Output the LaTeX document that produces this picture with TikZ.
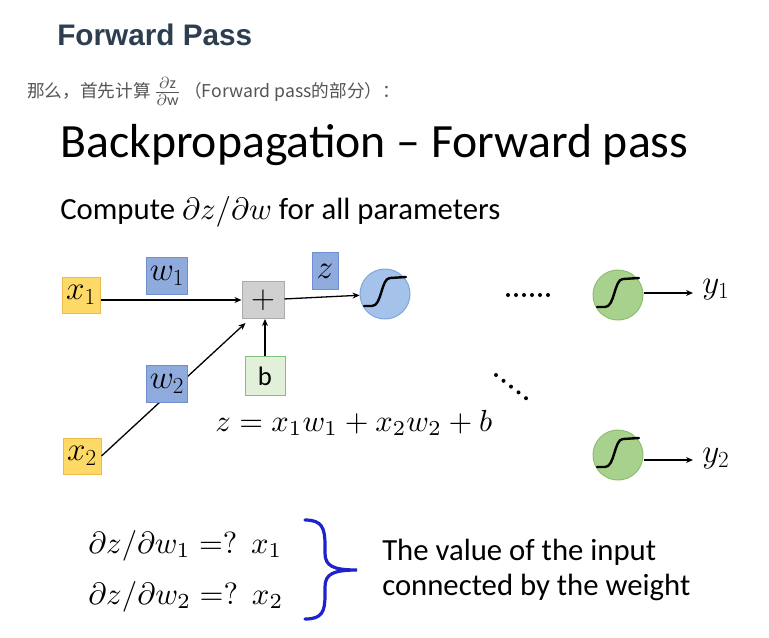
\documentclass[tikz,border=0pt]{standalone}
\usepackage{fontspec}
\setmainfont{Carlito}
\newfontfamily\cjk{Noto Sans CJK SC}
\newfontfamily\hdr{Liberation Sans}
\usetikzlibrary{arrows.meta}
\newlength\px \setlength\px{0.75pt}
\definecolor{hdrc}{HTML}{2C3E50}
\definecolor{cjkc}{HTML}{555555}
\definecolor{yelf}{HTML}{FFD966}
\definecolor{yeld}{HTML}{EDB94C}
\definecolor{wf}{HTML}{8FAADC}
\definecolor{wd}{HTML}{6F8FCF}
\definecolor{plf}{HTML}{D0D0D0}
\definecolor{pld}{HTML}{ABABAB}
\definecolor{bf}{HTML}{E2F0D9}
\definecolor{bd}{HTML}{7CC47C}
\definecolor{blf}{HTML}{A4C2EA}
\definecolor{bld}{HTML}{7EA6E0}
\definecolor{grf}{HTML}{A9D18E}
\definecolor{grd}{HTML}{8CBF70}
\definecolor{brc}{HTML}{1E22CC}
\newcommand\sigcurve[1]{\draw[sigline] ([shift={(-21,12)}]#1.center) -- ([shift={(-13,12)}]#1.center) .. controls +(10,0) and +(-9,0) .. ([shift={(5,-16)}]#1.center) -- ([shift={(21,-17)}]#1.center);}
\begin{document}
\begin{tikzpicture}[x=0.75pt,y=-0.75pt,
  txt/.style={anchor=base west, inner sep=0pt},
  boxbase/.style={line width=0.75pt, inner sep=0pt, minimum height=27pt, font=\fontsize{25}{30}\selectfont},
  inbox/.style={boxbase, fill=yelf, draw=yeld, minimum width=28.5pt},
  wbox/.style={boxbase, fill=wf, draw=wd, minimum width=30.75pt, minimum height=27.75pt},
  plusbox/.style={boxbase, fill=plf, draw=pld, minimum width=31.5pt, minimum height=27.75pt, font=\fontsize{28}{32}\selectfont},
  bbox/.style={boxbase, fill=bf, draw=bd, minimum width=30pt, minimum height=29.25pt, font=\fontsize{20}{24}\selectfont},
  sig/.style={circle, line width=0.75pt, minimum size=37.5pt, inner sep=0pt},
  sigline/.style={line width=1.8pt, line cap=round, line join=round, black},
  arr/.style={-{Stealth[length=5.25pt,width=4.5pt]}, line width=0.975pt},
  lbl/.style={inner sep=0pt, font=\fontsize{24}{28}\selectfont}]
\useasboundingbox[fill=white] (0,0) rectangle (769,637);

% header texts
\node[txt, text=hdrc] (hd) at (57,45) {\resizebox{195\px}{!}{\hdr\bfseries Forward Pass}};
\node[txt, text=cjkc] (cn) at (27,97) {\resizebox{373\px}{!}{{\cjk 那么，首先计算}\hspace{1.5pt}\raisebox{-0.5pt}{\scalebox{1.3}{$\frac{\partial\mathrm{z}}{\partial\mathrm{w}}$}}\,{\cjk （Forward pass的部分）：}}};
\node[txt] (title) at (60,157) {\resizebox{628\px}{!}{Backpropagation \textendash{} Forward pass}};
\node[txt] (comp) at (60,219) {\resizebox{440\px}{!}{Compute $\partial z/\partial w$ for all parameters}};

% network
\node[inbox] (x1) at (81,295) {$x_1$};
\node[inbox] (x2) at (82,456) {$x_2$};
\node[plusbox] (plus) at (263,300) {$+$};
\node[bbox] (b) at (265,376) {b};
\node[sig, fill=blf, draw=bld] (s0) at (385,294) {};
\node[sig, fill=grf, draw=grd] (s1) at (618,295) {};
\node[sig, fill=grf, draw=grd] (s2) at (618,455) {};
\sigcurve{s0}
\sigcurve{s1}
\sigcurve{s2}
\node[lbl, anchor=west] (y1) at (702,290) {$y_1$};
\node[lbl, anchor=west] (y2) at (702,459) {$y_2$};

\draw[arr] (x1.east |- plus) -- (plus.west);
\draw[arr] (x2.east) -- ([shift={(4,4)}]plus.south west);
\draw[arr] (b.north) -- (b.north |- plus.south);
\draw[arr] (plus) -- (s0);
\draw[arr, shorten >=9\px] ([shift={(0,-2)}]s1.east) -- ([shift={(0,-2)}]s1.east -| y1.west);
\draw[arr, shorten >=9\px] ([shift={(0,5)}]s2.east) -- ([shift={(0,5)}]s2.east -| y2.west);

\node[wbox] (w1) at (167,276) {$w_1$};
\node[wbox] (w2) at (167,384) {$w_2$};
\node[wbox, minimum width=19.5pt] (z) at (325,271) {$z$};

% dots
\foreach \i in {0,...,5} \fill (508+8*\i,295) circle[radius=1.5pt];
\foreach \i in {0,...,4} \fill (496+7.5*\i,375+5.8*\i) circle[radius=1.5pt];

% equation
\node[txt] (eq) at (215,431) {\resizebox{277\px}{!}{$z = x_1 w_1 + x_2 w_2 + b$}};

% bottom
\node[txt] (e1) at (88,553) {\resizebox{194\px}{!}{$\partial z/\partial w_1 \;{=}?\ \ x_1$}};
\node[txt] (e2) at (88,604) {\resizebox{195\px}{!}{$\partial z/\partial w_2 \;{=}?\ \ x_2$}};
\draw[brc, line width=2.4pt, line cap=round] (305,520) .. controls (322,520) and (325,528) .. (325,545) -- (325,553) .. controls (325,566) and (333,570) .. (357,570) .. controls (333,570) and (325,574) .. (325,587) -- (325,595) .. controls (325,612) and (322,619) .. (305,619);
\node[txt] (t1) at (382,560) {\resizebox{274\px}{!}{The value of the input}};
\node[txt] (t2) at (382,595) {\resizebox{308\px}{!}{connected by the weight}};
\end{tikzpicture}
\end{document}
